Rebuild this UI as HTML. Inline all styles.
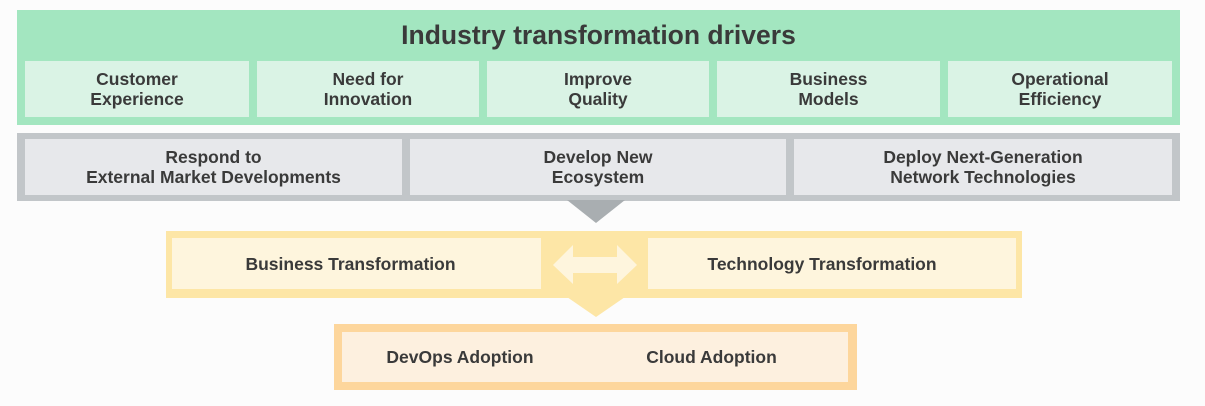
<!DOCTYPE html>
<html><head><style>
body{margin:0;width:1205px;height:406px;background:#fcfcfc;position:relative;overflow:hidden;font-family:"Liberation Sans",Arial,sans-serif;font-weight:bold;color:#3a3a3a}
.b{position:absolute;box-sizing:border-box}
.t{position:absolute;display:flex;align-items:center;justify-content:center;text-align:center;font-size:17.5px;line-height:20px;box-sizing:border-box}
</style></head><body>
<div class="b" style="left:17px;top:10px;width:1163px;height:115px;background:#a3e6c0"></div>
<div class="t" style="left:17px;top:14px;width:1163px;height:42px;font-size:26.5px;">Industry transformation drivers</div>
<div class="t" style="left:25px;top:61px;width:224px;height:56px;background:#daf3e5">Customer<br>Experience</div>
<div class="t" style="left:257px;top:61px;width:222px;height:56px;background:#daf3e5">Need for<br>Innovation</div>
<div class="t" style="left:487px;top:61px;width:222px;height:56px;background:#daf3e5">Improve<br>Quality</div>
<div class="t" style="left:717px;top:61px;width:223px;height:56px;background:#daf3e5">Business<br>Models</div>
<div class="t" style="left:948px;top:61px;width:224px;height:56px;background:#daf3e5">Operational<br>Efficiency</div>

<div class="b" style="left:17px;top:133px;width:1163px;height:68px;background:#c2c6c9"></div>
<div class="t" style="left:25px;top:139px;width:377px;height:56px;background:#e7e8eb">Respond to<br>External Market Developments</div>
<div class="t" style="left:410px;top:139px;width:376px;height:56px;background:#e7e8eb">Develop New<br>Ecosystem</div>
<div class="t" style="left:794px;top:139px;width:378px;height:56px;background:#e7e8eb">Deploy Next-Generation<br>Network Technologies</div>

<svg class="b" style="left:0;top:0" width="1205" height="406">
<polygon points="567,200 625,200 596,223" fill="#a9aeb1"/>
<rect x="166" y="231" width="856" height="67" fill="#fde6a6"/>
<polygon points="567,297 625,297 596,317" fill="#fde6a6"/>
<rect x="334" y="324" width="523" height="66" fill="#fdd69c"/>
<rect x="342" y="332" width="506" height="50" fill="#fdf0df"/>
<polygon points="553,265 573,245 573,257 617,257 617,245 637,265 617,284 617,273 573,273 573,284" fill="#fef5dd"/>
</svg>
<div class="t" style="left:172px;top:238px;width:369px;height:51px;background:#fef5dd;padding-right:12px">Business Transformation</div>
<div class="t" style="left:648px;top:238px;width:368px;height:51px;background:#fef5dd;padding-right:20px">Technology Transformation</div>
<div class="t" style="left:342px;top:332px;width:236px;height:50px;">DevOps Adoption</div>
<div class="t" style="left:595px;top:332px;width:233px;height:50px;">Cloud Adoption</div>
</body></html>
